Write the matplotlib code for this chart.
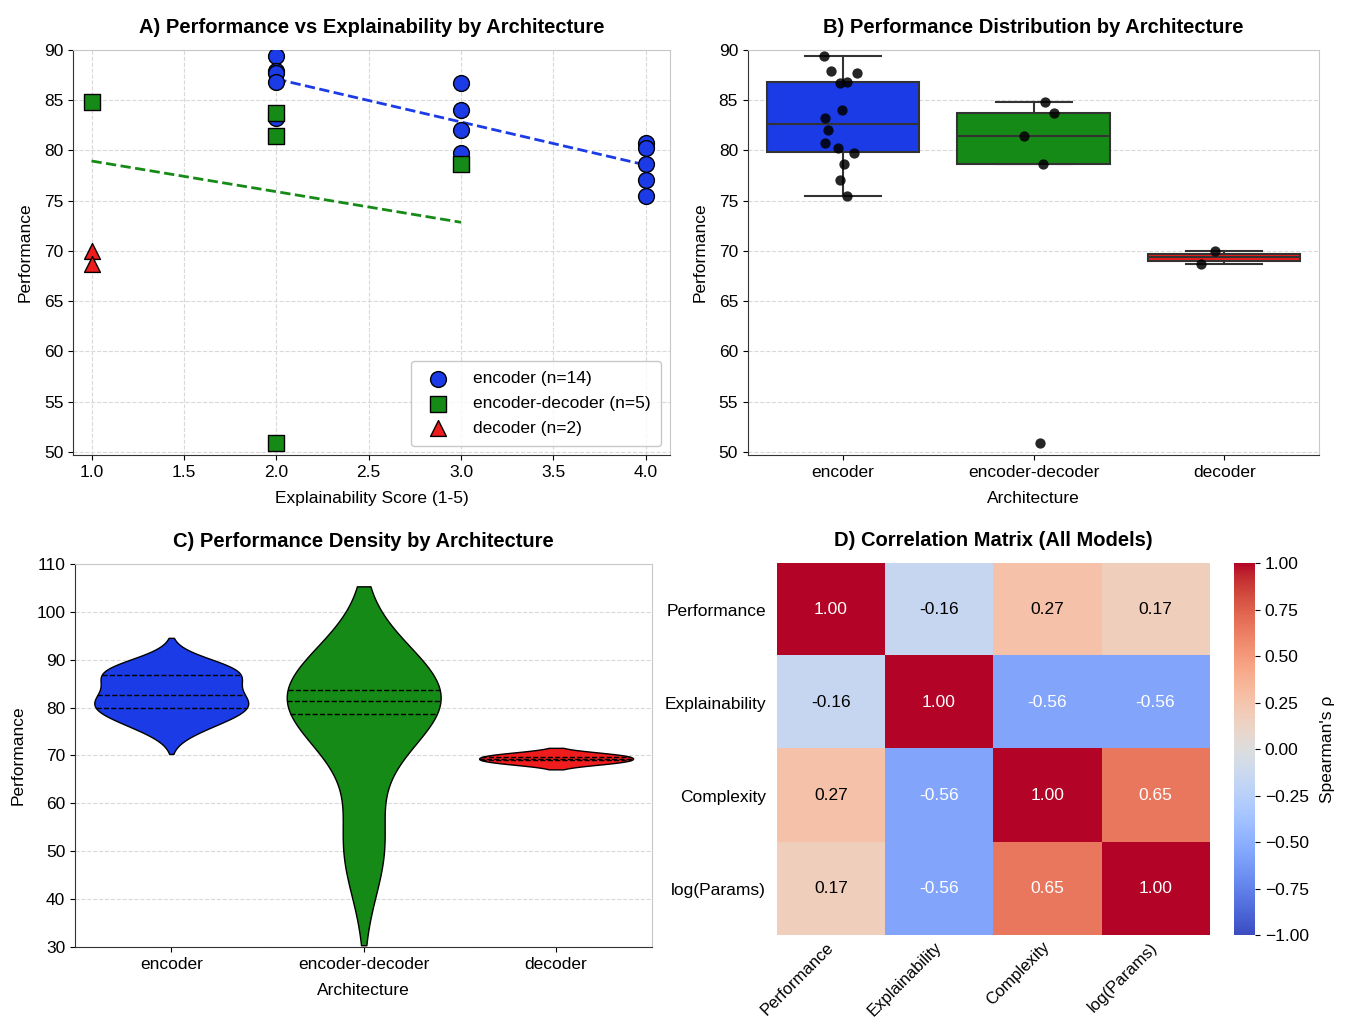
import numpy as np
import matplotlib
matplotlib.use("Agg")
import matplotlib.pyplot as plt
from matplotlib.ticker import FormatStrFormatter, FuncFormatter

plt.rcParams['font.family'] = ['Liberation Sans', 'DejaVu Sans']

# ---------------- data ----------------
architectures = ["encoder", "encoder-decoder", "decoder"]
arch_colors = ["#1a3be6", "#168a16", "#ee1c1c"]
arch_markers = ["o", "s", "^"]

enc_expl = [2, 2, 2, 2, 2, 3, 3, 3, 3, 4, 4, 4, 4, 4]
enc_perf = [89.4, 87.9, 87.7, 86.8, 83.2, 86.7, 84.0, 82.0, 79.7, 80.7, 80.2, 78.7, 77.1, 75.5]
encdec_expl = [1, 2, 2, 2, 3]
encdec_perf = [84.8, 83.7, 81.4, 50.9, 78.7]
dec_expl = [1, 1]
dec_perf = [70.0, 68.7]

corr_labels = ["Performance", "Explainability", "Complexity", "log(Params)"]
corr_row_perf = [1.00, -0.16, 0.27, 0.17]
corr_row_expl = [-0.16, 1.00, -0.56, -0.56]
corr_row_comp = [0.27, -0.56, 1.00, 0.65]
corr_row_params = [0.17, -0.56, 0.65, 1.00]

expl_groups = [enc_expl, encdec_expl, dec_expl]
perf_groups = [enc_perf, encdec_perf, dec_perf]

TICK = 12.5
LAB = 12.5
TITLE = 14.5

fig = plt.figure(figsize=(13.45, 10.19), dpi=100)
axA = fig.add_axes([0.0543, 0.5535, 0.4437, 0.3975])
axB = fig.add_axes([0.556, 0.5535, 0.425, 0.3975])
axC = fig.add_axes([0.0558, 0.0707, 0.4292, 0.3758])
axD = fig.add_axes([0.5777, 0.0824, 0.3213, 0.3651])
cax = fig.add_axes([0.9175, 0.0824, 0.0156, 0.3651])


def light_frame(ax):
    for s in ["top", "right"]:
        ax.spines[s].set_color("#c8c8c8")
    for s in ["left", "bottom"]:
        ax.spines[s].set_color("#333333")
    ax.tick_params(labelsize=TICK)


# ---------------- A) scatter + trend lines ----------------
for name, xs, ys, c, m in zip(architectures, expl_groups, perf_groups, arch_colors, arch_markers):
    ax_x = np.array(xs, dtype=float)
    ax_y = np.array(ys, dtype=float)
    axA.scatter(ax_x, ax_y, s=130, c=c, marker=m, edgecolors="black", linewidths=1,
                label=f"{name} (n={len(ys)})", zorder=3)
    if len(np.unique(ax_x)) > 1:
        k, b = np.polyfit(ax_x, ax_y, 1)
        xx = np.array([ax_x.min(), ax_x.max()])
        axA.plot(xx, k * xx + b, "--", color=c, lw=2, zorder=2)

axA.set_xlim(0.9, 4.13)
axA.set_ylim(49.7, 90)
axA.set_xticks([1.0, 1.5, 2.0, 2.5, 3.0, 3.5, 4.0])
axA.xaxis.set_major_formatter(FormatStrFormatter("%.1f"))
axA.grid(True, ls="--", color="#d9d9d9", lw=0.8)
axA.set_axisbelow(True)
axA.set_xlabel("Explainability Score (1-5)", fontsize=LAB, labelpad=8)
axA.set_ylabel("Performance", fontsize=LAB, labelpad=8)
axA.set_title("A) Performance vs Explainability by Architecture", fontsize=TITLE, fontweight="bold", pad=12)
axA.legend(loc="lower right", fontsize=TICK, frameon=True, edgecolor="#bbbbbb",
           borderpad=0.6, handletextpad=1.0, labelspacing=0.55, markerscale=1.0)
light_frame(axA)

# ---------------- B) box + strip ----------------
pos = np.arange(len(architectures))
bp = axB.boxplot(perf_groups, positions=pos, widths=0.8, patch_artist=True, showfliers=False,
                 medianprops=dict(color="#333333", lw=1.5),
                 whiskerprops=dict(color="#333333", lw=1.5),
                 capprops=dict(color="#333333", lw=1.5),
                 boxprops=dict(edgecolor="#333333", lw=1.5))
for patch, c in zip(bp["boxes"], arch_colors):
    patch.set_facecolor(c)
rng = np.random.default_rng(3)
for i, ys in enumerate(perf_groups):
    jit = rng.uniform(-0.12, 0.12, len(ys))
    axB.scatter(pos[i] + jit, ys, s=55, color="black", alpha=0.85, zorder=3, linewidths=0)
axB.set_xlim(-0.5, 2.5)
axB.set_ylim(49.7, 90)
axB.set_xticks(pos)
axB.set_xticklabels(architectures)
axB.yaxis.grid(True, ls="--", color="#d9d9d9", lw=0.8)
axB.set_axisbelow(True)
axB.set_xlabel("Architecture", fontsize=LAB, labelpad=8)
axB.set_ylabel("Performance", fontsize=LAB, labelpad=8)
axB.set_title("B) Performance Distribution by Architecture", fontsize=TITLE, fontweight="bold", pad=12)
light_frame(axB)

# ---------------- C) violins ----------------
def kde_stats(vals, cut=2, n=200):
    v = np.asarray(vals, dtype=float)
    bw = v.std(ddof=1) * len(v) ** (-1 / 5)
    coords = np.linspace(v.min() - cut * bw, v.max() + cut * bw, n)
    dens = np.exp(-0.5 * ((coords[:, None] - v[None, :]) / bw) ** 2).sum(axis=1)
    dens = dens / (len(v) * bw * np.sqrt(2 * np.pi))
    return dict(coords=coords, vals=dens, mean=v.mean(), median=np.median(v),
                min=v.min(), max=v.max())

vstats = [kde_stats(g) for g in perf_groups]
vp = axC.violin(vstats, positions=pos, widths=0.8, showmeans=False, showextrema=False)
for body, c in zip(vp["bodies"], arch_colors):
    body.set_facecolor(c)
    body.set_edgecolor("black")
    body.set_linewidth(1)
    body.set_alpha(1)
for i, (st, g) in enumerate(zip(vstats, perf_groups)):
    dmax = st["vals"].max()
    for q in np.percentile(g, [25, 50, 75]):
        hw = np.interp(q, st["coords"], st["vals"]) / dmax * 0.4
        axC.plot([pos[i] - hw, pos[i] + hw], [q, q], color="black", ls="--", lw=1, zorder=3)
axC.set_xlim(-0.5, 2.5)
axC.set_ylim(30, 110)
axC.set_xticks(pos)
axC.set_xticklabels(architectures)
axC.yaxis.grid(True, ls="--", color="#d9d9d9", lw=0.8)
axC.set_axisbelow(True)
axC.set_xlabel("Architecture", fontsize=LAB, labelpad=8)
axC.set_ylabel("Performance", fontsize=LAB, labelpad=8)
axC.set_title("C) Performance Density by Architecture", fontsize=TITLE, fontweight="bold", pad=12)
light_frame(axC)

# ---------------- D) correlation heatmap ----------------
corr = np.array([corr_row_perf, corr_row_expl, corr_row_comp, corr_row_params])
im = axD.imshow(corr, cmap="coolwarm", vmin=-1, vmax=1, aspect="auto")
for r in range(corr.shape[0]):
    for c in range(corr.shape[1]):
        val = corr[r, c]
        axD.text(c, r, f"{val:.2f}", ha="center", va="center", fontsize=TICK,
                 color="white" if abs(val) > 0.5 else "black")
axD.set_xticks(range(len(corr_labels)))
axD.set_yticks(range(len(corr_labels)))
axD.set_xticklabels(corr_labels, rotation=45, ha="right", va="center",
                    rotation_mode="anchor", fontsize=12)
axD.set_yticklabels(corr_labels, fontsize=TICK)
axD.tick_params(axis="y", length=0, pad=8)
axD.tick_params(axis="x", length=0, pad=7)
for s in axD.spines.values():
    s.set_visible(False)
axD.set_title("D) Correlation Matrix (All Models)", fontsize=TITLE, fontweight="bold", pad=12)
cb = fig.colorbar(im, cax=cax)
cb.set_ticks(np.arange(-1, 1.01, 0.25))
cb.ax.yaxis.set_major_formatter(FuncFormatter(lambda v, p: f"{v:.2f}".replace("-", "\u2212")))
cb.ax.tick_params(labelsize=TICK)
cb.outline.set_visible(False)
cb.set_label("Spearman's ρ", fontsize=TICK, labelpad=8)

fig.savefig("out.png", dpi=100)
